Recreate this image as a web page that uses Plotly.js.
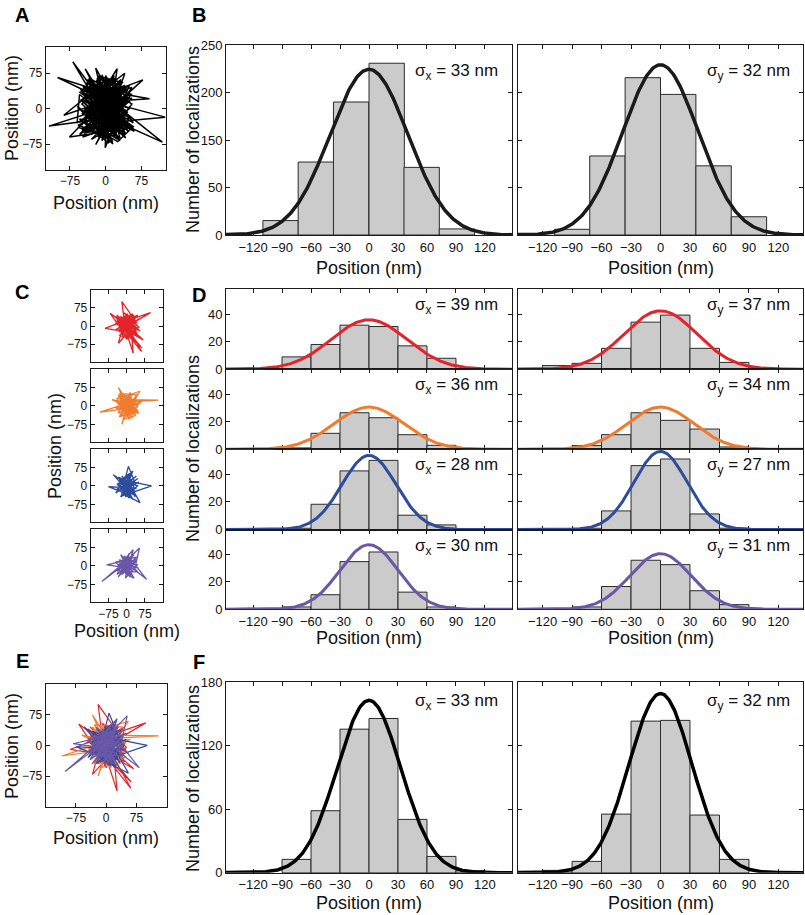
<!DOCTYPE html>
<html>
<head>
<meta charset="utf-8">
<script src="https://cdn.plot.ly/plotly-3.0.1.min.js"></script>
<style>html,body{margin:0;padding:0;background:#fff;}#chart{width:805px;height:915px;}</style>
</head>
<body>
<div id="chart"></div>
<script>
// ---------------- DATA ----------------
const histTicks = [-120, -90, -60, -30, 0, 30, 60, 90, 120];
const trajTicks = [-75, 0, 75];

// Panel A: full trajectory, [x, y] in nm
const trajA = [[0,5],[25,-20],[-30,30],[10,45],[-15,-35],[40,10],[-45,-5],[5,-50],[30,40],[-20,15],
[-69,99],[-10,20],[35,-30],[-40,40],[15,-10],[50,25],[-25,-45],[0,60],[-50,10],[20,-55],
[45,-5],[-101,66],[-5,35],[30,-40],[-35,-20],[10,30],[55,45],[-15,-60],[-40,55],[25,5],
[-21,86],[5,-25],[40,50],[-30,-10],[15,-70],[-45,25],[35,20],[-10,-40],[0,70],[45,-35],
[-25,5],[24,85],[10,-15],[-35,45],[50,-20],[-20,-30],[30,60],[-50,-25],[5,15],[92,21],
[-15,40],[20,-35],[-40,-40],[35,5],[-5,-65],[40,75],[-30,20],[15,-45],[55,10],[-10,50],
[-88,-14],[25,25],[-20,-15],[45,40],[-45,0],[10,-60],[30,-10],[-35,65],[0,-30],[125,-18],
[20,10],[-25,55],[40,-45],[-5,0],[-55,35],[15,45],[-30,-55],[50,0],[-15,25],[78,61],
[-10,-20],[35,-55],[-40,15],[20,55],[5,-40],[-50,-45],[30,25],[-20,60],[45,-15],[-119,-37],
[10,5],[-35,-25],[25,-65],[-5,45],[40,30],[-21,-76],[15,-5],[-45,45],[35,-25],[0,25],
[119,-71],[-15,-10],[-30,35],[20,-25],[50,50],[-40,-15],[5,65],[-1,-83],[30,0],[-25,-35],
[10,40],[-50,20],[40,-30],[-10,10],[-76,-60],[25,-45],[-20,45],[45,15],[-5,-50],[30,35],
[-35,-5],[60,-45],[0,15],[-43,84],[15,-30],[-30,50],[35,-5],[-15,-25],[20,20],[-60,-30],
[-55,30],[48,-48],[-38,62],[22,-58],[-58,-40],[35,55],[-12,68],[58,-30],[-48,35],[8,-72],
[-28,48],[42,-62],[-52,18],[18,62],[-8,-68],[52,38],[-42,-52],[28,-20],[-18,72],[38,8],
[-58,-35],[12,-62],[-35,-48],[55,30],[-22,52],[2,-42],[-48,48],[45,-8],[-5,-58],[32,62],
[-40,-30],[20,28],[-55,-55],[50,15],[-30,62],[8,-35],[40,-52],[-15,58],[-45,-28],[25,-70],
[58,-38],[-25,20],[10,55],[-50,-12],[35,45],[-10,-55],[48,20],[-35,48],[15,-75],[-60,5],
[30,-62],[0,42],[-40,-50],[52,-40],[-20,30],[22,65],[-52,40],[42,-55],[-8,72],[28,-30],
[-30,-65],[55,22],[-45,12],[12,-50],[-18,65],[45,-42],[-55,-22],[5,-72],[38,48],[-28,25],
[18,70],[-48,-60],[50,-25],[-12,10],[30,-68],[-38,5],[60,-48],[-22,35],[8,55],[-50,-35]];

// Panels C / E: four single-molecule trajectories, [x, y] in nm
const trajRed = [[0,10],[20,-20],[-30,30],[15,40],[-20,-10],[40,15],[-20,100],[-10,20],[35,-35],[-40,45],
[10,-5],[50,30],[-30,-25],[5,50],[-50,5],[98,55],[20,10],[-15,-30],[30,45],[-35,15],
[61,-105],[25,-40],[-25,40],[45,-10],[-10,0],[27,-112],[15,20],[-45,-15],[35,25],[0,-45],
[-68,52],[20,-10],[-20,25],[55,-20],[-5,35],[-34,-71],[30,0],[-40,30],[10,-25],[68,-57],
[-15,15],[25,35],[-89,-10],[40,-30],[-10,40],[15,-50],[-30,5],[45,45],[0,-15],[62,-90],
[-25,-5],[10,30],[-25,35],[30,-15],[-5,45],[40,5],[-35,-20],[15,30],[45,-40],[-15,-5],
[25,50],[-40,20],[5,-30],[35,40],[-30,-40],[20,0],[-10,55],[50,-5],[-20,-45],[10,25],
[40,-20],[-45,40],[0,-55],[30,15],[-25,10],[15,-45],[-5,30]];
const trajOrange = [[0,0],[25,15],[-20,-20],[10,35],[-35,10],[30,-25],[-34,74],[-5,10],[40,20],[-25,-40],
[15,-10],[-10,45],[45,-5],[-110,-26],[-30,0],[20,30],[-15,-55],[35,-40],[5,25],[130,23],
[-20,15],[25,-50],[-40,30],[55,59],[0,-20],[-20,-75],[15,40],[-45,-10],[30,5],[-5,-35],
[40,45],[-30,50],[20,-15],[-60,25],[10,10],[-15,-25],[50,-30],[-25,35],[5,-45],[35,30],
[-10,0],[60,15],[-35,-30],[15,55],[0,5],[-25,25],[30,-10],[-5,-45],[40,35],[-40,-15],
[15,15],[-15,40],[45,-20],[-30,-45],[20,45],[0,-30],[-45,20],[35,-35],[-10,20],[25,-5],
[-35,45],[10,-55],[50,10],[-20,-10],[5,35]];
const trajBlue = [[0,0],[20,-15],[-25,20],[10,35],[-30,-20],[35,10],[7,79],[-10,15],[25,-35],[-40,5],
[15,25],[-15,-40],[102,0],[0,20],[-35,35],[30,-20],[-5,-10],[45,30],[-20,-30],[55,-68],
[10,10],[-30,15],[20,45],[-10,-25],[40,-10],[-75,-3],[5,-35],[30,20],[-20,5],[-55,45],
[15,-5],[35,-45],[-15,30],[25,60],[-5,-15],[50,15],[-25,-10],[10,-50],[0,5],[-20,40],
[35,-25],[-40,-15],[15,50],[-5,-45],[45,0],[-30,25],[20,-45],[-15,0],[40,40],[-45,-30],
[5,45],[30,-5],[-25,-45],[10,20],[-35,10],[25,-55],[0,-5]];
const trajPurple = [[0,0],[20,20],[-25,-10],[10,-30],[-30,25],[35,-5],[52,72],[-5,15],[25,-25],[-40,-20],
[15,35],[-102,-64],[-10,5],[30,10],[-20,-35],[5,40],[82,-55],[-15,20],[27,65],[0,-20],
[-35,5],[40,25],[-5,-40],[20,-10],[-82,4],[10,25],[-25,-25],[45,-25],[-10,40],[15,-45],
[-30,-5],[30,45],[0,10],[50,-10],[-20,15],[5,-15],[-20,35],[35,15],[-40,-35],[10,50],
[-5,-50],[45,5],[-30,10],[25,-40],[-15,-20],[40,35],[-45,15],[0,-35],[30,-50],[-25,45],
[15,5],[-35,-45],[20,30],[5,-5]];

// Panel B: pooled histograms (counts) and Gaussian fits
const bCentersX = [-91.5, -55, -18.5, 18.3, 54.5, 91];
const bCountsX = [19, 96, 175, 226, 89, 8];
const bCentersY = [-90, -54, -18, 18, 54, 90];
const bCountsY = [7.5, 104, 207, 185, 91, 24];
const bFitPeak = [218, 224];
const bFitWidth = [40.3, 38.4];
const bSigmaLabels = ['σ<sub>x</sub> = 33 nm', 'σ<sub>y</sub> = 32 nm'];
const bYTickVals = [0, 62.5, 125, 187.5, 250];
const bYTickText = ['0', '50', '150', '200', '250'];

// Panel D: per-molecule histograms (red, orange, blue, purple)
const dCentersX = [-75, -45, -15, 15, 45, 75];
const dCentersY = [-105, -75, -45, -15, 15, 45, 75];
const dCountsX_red = [9, 18, 32, 31, 17, 8];
const dCountsX_orange = [1, 11.6, 26.5, 22.9, 10.6, 2.9];
const dCountsX_blue = [1, 18.3, 42.4, 50, 10.4, 3.4];
const dCountsX_purple = [1.7, 10.6, 34.7, 41.7, 12.5, 1.7];
const dCountsY_red = [2.7, 4.3, 15.2, 34.2, 39.3, 15.2, 5];
const dCountsY_orange = [0, 2.7, 10.6, 26.5, 21, 14.7, 1.7];
const dCountsY_blue = [0, 1, 13.5, 46.2, 51, 11.3, 1];
const dCountsY_purple = [0, 1.7, 16.6, 35.7, 32.5, 13.5, 3.4];
const dFitPeakX = [35.9, 30.6, 53.6, 47];
const dFitPeakY = [42.4, 30.6, 56.5, 40.5];
const dSigmaX = [39, 36, 28, 30];
const dSigmaY = [37, 34, 27, 31];

// Panel F: combined histograms
const fCentersX = [-75, -45, -15, 15, 45, 75, 105];
const fCountsX = [12.6, 58.6, 135.7, 145.8, 50.4, 15.4, 1.9];
const fCentersY = [-105, -75, -45, -15, 15, 45, 75];
const fCountsY = [2.2, 10.7, 55.4, 143.3, 144, 54.5, 12.6];
const fFitPeak = [163, 169.4];
const fSigma = [33, 32];

// ---------------- STYLE / LAYOUT ----------------
const W = 805, H = 915;
const FONT = 'Liberation Sans, Arial, Helvetica, sans-serif';
const colors = ['#e4232a', '#f27a2c', '#2e4c9c', '#6a57a8'];
const barFill = '#cbcbcb', barLine = '#2a2a2a';
const fx = p => p / W;
const fy = p => 1 - p / H;

const layout = {
  width: W, height: H, margin: {l: 0, r: 0, t: 0, b: 0},
  paper_bgcolor: '#fff', plot_bgcolor: 'rgba(0,0,0,0)',
  showlegend: false, hovermode: false, font: {family: FONT, color: '#111'},
  annotations: [], bargap: 0
};
const traces = [];

function baseAxis(extra) {
  return Object.assign({
    showline: true, linecolor: '#1a1a1a', linewidth: 1, mirror: 'ticks',
    ticks: 'inside', ticklen: 4, tickwidth: 1, tickcolor: '#1a1a1a',
    showgrid: false, zeroline: false, fixedrange: true, layer: 'below traces',
    tickfont: {family: FONT, size: 13, color: '#111'}
  }, extra);
}
let nAx = 0;
function addAxes(x0, x1, y0, y1, xopt, yopt) {
  nAx++;
  const s = nAx === 1 ? '' : String(nAx);
  layout['xaxis' + s] = baseAxis(Object.assign({domain: [fx(x0), fx(x1)], anchor: 'y' + s}, xopt));
  layout['yaxis' + s] = baseAxis(Object.assign({domain: [fy(y1), fy(y0)], anchor: 'x' + s}, yopt));
  return {xaxis: 'x' + s, yaxis: 'y' + s};
}
function gaussCurve(peak, width, lo, hi) {
  const xs = [], ys = [];
  for (let x = lo; x <= hi; x += 1) { xs.push(x); ys.push(peak * Math.exp(-x * x / (2 * width * width))); }
  return {xs, ys};
}
function addHist(ax, centers, counts, binW, peak, width, color, lw) {
  traces.push(Object.assign({type: 'bar', x: centers, y: counts, width: binW,
    marker: {color: barFill, line: {color: barLine, width: 1}}}, ax));
  const g = gaussCurve(peak, width, -160, 160);
  traces.push(Object.assign({type: 'scatter', mode: 'lines', x: g.xs, y: g.ys,
    line: {color: color, width: lw, shape: 'linear'}}, ax));
}
function addTraj(ax, pts, color, lw) {
  traces.push(Object.assign({type: 'scatter', mode: 'lines', x: pts.map(p => p[0]), y: pts.map(p => p[1]),
    line: {color: color, width: lw}}, ax));
}
function ann(text, x, y, opt) {
  layout.annotations.push(Object.assign({text: text, x: fx(x), y: fy(y), xref: 'paper', yref: 'paper',
    showarrow: false, xanchor: 'center', yanchor: 'middle', font: {family: FONT, size: 18, color: '#111'}}, opt));
}

const smallTick = {family: FONT, size: 12, color: '#111'};
const histXL = [-148, 148], histXR = [-145, 145];

// A
let ax = addAxes(45.7, 165.7, 47.3, 170,
  {range: [-126, 126], tickvals: trajTicks, tickfont: smallTick},
  {range: [-130, 130], tickvals: trajTicks, tickfont: smallTick});
addTraj(ax, trajA, '#000', 1.5);

// B
ax = addAxes(226, 512, 45, 235, {range: histXL, tickvals: histTicks},
  {range: [0, 250], tickvals: bYTickVals, ticktext: bYTickText});
addHist(ax, bCentersX, bCountsX, 36.6, bFitPeak[0], bFitWidth[0], '#1a1a1a', 3.5);
ax = addAxes(518, 803, 45, 235, {range: histXR, tickvals: histTicks},
  {range: [0, 250], tickvals: bYTickVals, showticklabels: false});
addHist(ax, bCentersY, bCountsY, 36, bFitPeak[1], bFitWidth[1], '#1a1a1a', 3.5);

// C
const cRows = [[290, 362], [369.3, 442.3], [449.3, 522.3], [529.3, 602.3]];
const trajAll = [trajRed, trajOrange, trajBlue, trajPurple];
cRows.forEach((r, i) => {
  const a = addAxes(90.7, 162.7, r[0], r[1],
    {range: [-148, 148], tickvals: trajTicks, tickfont: smallTick, showticklabels: i === 3},
    {range: [-148, 148], tickvals: trajTicks, tickfont: smallTick});
  addTraj(a, trajAll[i], colors[i], 1.3);
});

// D
const dRows = [[289.3, 369.3], [369.3, 449.3], [449.3, 529.6], [529.6, 609.3]];
const dCountsXAll = [dCountsX_red, dCountsX_orange, dCountsX_blue, dCountsX_purple];
const dCountsYAll = [dCountsY_red, dCountsY_orange, dCountsY_blue, dCountsY_purple];
const sigFont = {family: FONT, size: 17, color: '#111'};
dRows.forEach((r, i) => {
  let a = addAxes(226, 512, r[0], r[1],
    {range: histXL, tickvals: histTicks, showticklabels: i === 3},
    {range: [0, 58], tickvals: [0, 20, 40]});
  addHist(a, dCentersX, dCountsXAll[i], 30, dFitPeakX[i], dSigmaX[i], colors[i], 3);
  a = addAxes(518, 803, r[0], r[1],
    {range: histXR, tickvals: histTicks, showticklabels: i === 3},
    {range: [0, 58], tickvals: [0, 20, 40], showticklabels: false});
  addHist(a, dCentersY, dCountsYAll[i], 30, dFitPeakY[i], dSigmaY[i], colors[i], 3);
  ann('σ<sub>x</sub> = ' + dSigmaX[i] + ' nm', 500, r[0] + 17, {xanchor: 'right', font: sigFont});
  ann('σ<sub>y</sub> = ' + dSigmaY[i] + ' nm', 792, r[0] + 17, {xanchor: 'right', font: sigFont});
});

// E
ax = addAxes(45.7, 166.7, 684, 806.7,
  {range: [-150, 150], tickvals: trajTicks, tickfont: smallTick},
  {range: [-150, 150], tickvals: trajTicks, tickfont: smallTick});
for (let i = 0; i < 4; i++) addTraj(ax, trajAll[i], colors[i], 1.2);

// F
ax = addAxes(226, 512, 682.3, 872.7, {range: histXL, tickvals: histTicks},
  {range: [0, 180], tickvals: [0, 60, 120, 180]});
addHist(ax, fCentersX, fCountsX, 30, fFitPeak[0], fSigma[0], '#000', 3.5);
ax = addAxes(518, 803, 682.3, 872.7, {range: histXR, tickvals: histTicks},
  {range: [0, 180], tickvals: [0, 60, 120, 180], showticklabels: false});
addHist(ax, fCentersY, fCountsY, 30, fFitPeak[1], fSigma[1], '#000', 3.5);

// Sigma labels B / F
ann(bSigmaLabels[0], 500, 72, {xanchor: 'right', font: sigFont});
ann(bSigmaLabels[1], 792, 72, {xanchor: 'right', font: sigFont});
ann('σ<sub>x</sub> = ' + fSigma[0] + ' nm', 500, 702, {xanchor: 'right', font: sigFont});
ann('σ<sub>y</sub> = ' + fSigma[1] + ' nm', 792, 702, {xanchor: 'right', font: sigFont});

// Panel letters
const letterFont = {family: FONT, size: 20, color: '#000', weight: 'bold'};
[['A', 22, 15], ['B', 199, 15], ['C', 22, 292], ['D', 199, 295], ['E', 22, 661], ['F', 199, 662]]
  .forEach(l => ann('<b>' + l[0] + '</b>', l[1], l[2], {font: letterFont}));

// Axis titles
const pos = 'Position (nm)';
ann(pos, 106, 203); ann(pos, 12, 108, {textangle: -90});
ann('Number of localizations', 193, 140, {textangle: -90});
ann(pos, 369, 268); ann(pos, 661, 268);
ann(pos, 127, 631); ann(pos, 55, 446, {textangle: -90});
ann('Number of localizations', 193, 449, {textangle: -90});
ann(pos, 369, 638); ann(pos, 661, 638);
ann(pos, 106, 838); ann(pos, 12, 746, {textangle: -90});
ann('Number of localizations', 193, 779, {textangle: -90});
ann(pos, 369, 903); ann(pos, 661, 903);

Plotly.newPlot('chart', traces, layout, {staticPlot: true, displayModeBar: false});
</script>
</body>
</html>
